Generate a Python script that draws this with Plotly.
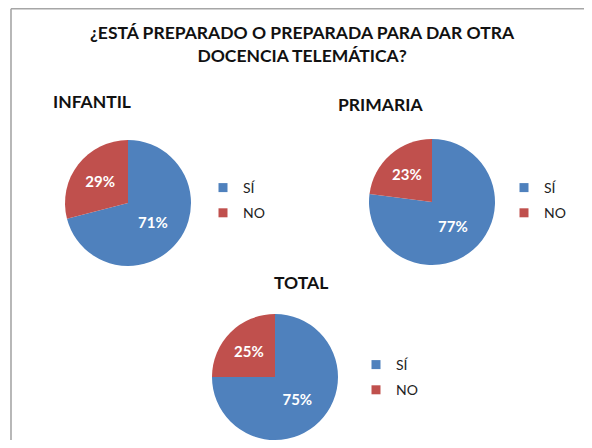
import plotly.graph_objects as go

labels = ["SÍ", "NO"]
infantil = [71, 29]
primaria = [77, 23]
total = [75, 25]
colors = ["#4F81BD", "#C0504D"]

# the page body has an 8px margin, so the figure is drawn 8px in from the window edge
OFF = 8
W, H = 576, 432
FONT = "Lato, 'Open Sans', sans-serif"


def px(x):
    return (x - OFF) / W


def py(y):
    return 1 - (y - OFF) / H


def px_dom(cx, cy, r):
    return {"x": [px(cx - r), px(cx + r)], "y": [py(cy + r), py(cy - r)]}


fig = go.Figure()
charts = [
    (infantil, px_dom(128, 203, 63), "legend"),
    (primaria, px_dom(432, 202, 63), "legend2"),
    (total, px_dom(275, 377, 63), "legend3"),
]
for vals, dom, leg in charts:
    fig.add_trace(go.Pie(
        labels=labels, values=vals, domain=dom, showlegend=False,
        sort=False, direction="clockwise", rotation=0,
        marker={"colors": colors},
        texttemplate="%{percent:.0%}", textposition="inside", insidetextorientation="horizontal",
        textfont={"color": "white", "size": 15, "family": FONT, "weight": "bold"},
        hoverinfo="label+percent",
    ))
    # legend entries for this pie, in its own legend box
    for lab, col in zip(labels, colors):
        fig.add_trace(go.Scatter(
            x=[None], y=[None], mode="markers", name=lab, legend=leg,
            legendgroup=leg + lab, showlegend=True,
            marker={"symbol": "square", "size": 9, "color": col},
        ))

legend_style = dict(font={"size": 14, "family": FONT, "color": "#222"}, bgcolor="rgba(0,0,0,0)",
                    xanchor="left", yanchor="middle", itemclick=False, tracegroupgap=4)
title_font = {"size": 17.5, "family": FONT, "color": "#111", "weight": "bold"}
border = {"color": "#A6A6A6", "width": 1.6}


def label(text, x, y):
    return {"text": text, "x": px(x), "y": py(y), "xref": "paper", "yref": "paper",
            "xanchor": "center", "yanchor": "middle", "showarrow": False, "font": title_font}


fig.update_layout(
    width=W, height=H,
    margin={"l": 0, "r": 0, "t": 0, "b": 0},
    paper_bgcolor="white", plot_bgcolor="white",
    font={"family": FONT},
    xaxis={"visible": False}, yaxis={"visible": False},
    legend={**legend_style, "x": px(203), "y": py(200.5)},
    legend2={**legend_style, "x": px(504), "y": py(200.5)},
    legend3={**legend_style, "x": px(356), "y": py(377.5)},
    shapes=[
        {"type": "line", "xref": "paper", "yref": "paper",
         "x0": px(11), "x1": px(11), "y0": 0, "y1": py(8.8), "line": border},
        {"type": "line", "xref": "paper", "yref": "paper",
         "x0": px(11), "x1": 1, "y0": py(8.8), "y1": py(8.8), "line": border},
    ],
    annotations=[
        label("¿ESTÁ PREPARADO O PREPARADA PARA DAR OTRA<br>DOCENCIA TELEMÁTICA?", 302, 43.5),
        label("INFANTIL", 92, 101),
        label("PRIMARIA", 380, 104),
        label("TOTAL", 301, 282),
    ],
)

fig.write_html("out.html")
